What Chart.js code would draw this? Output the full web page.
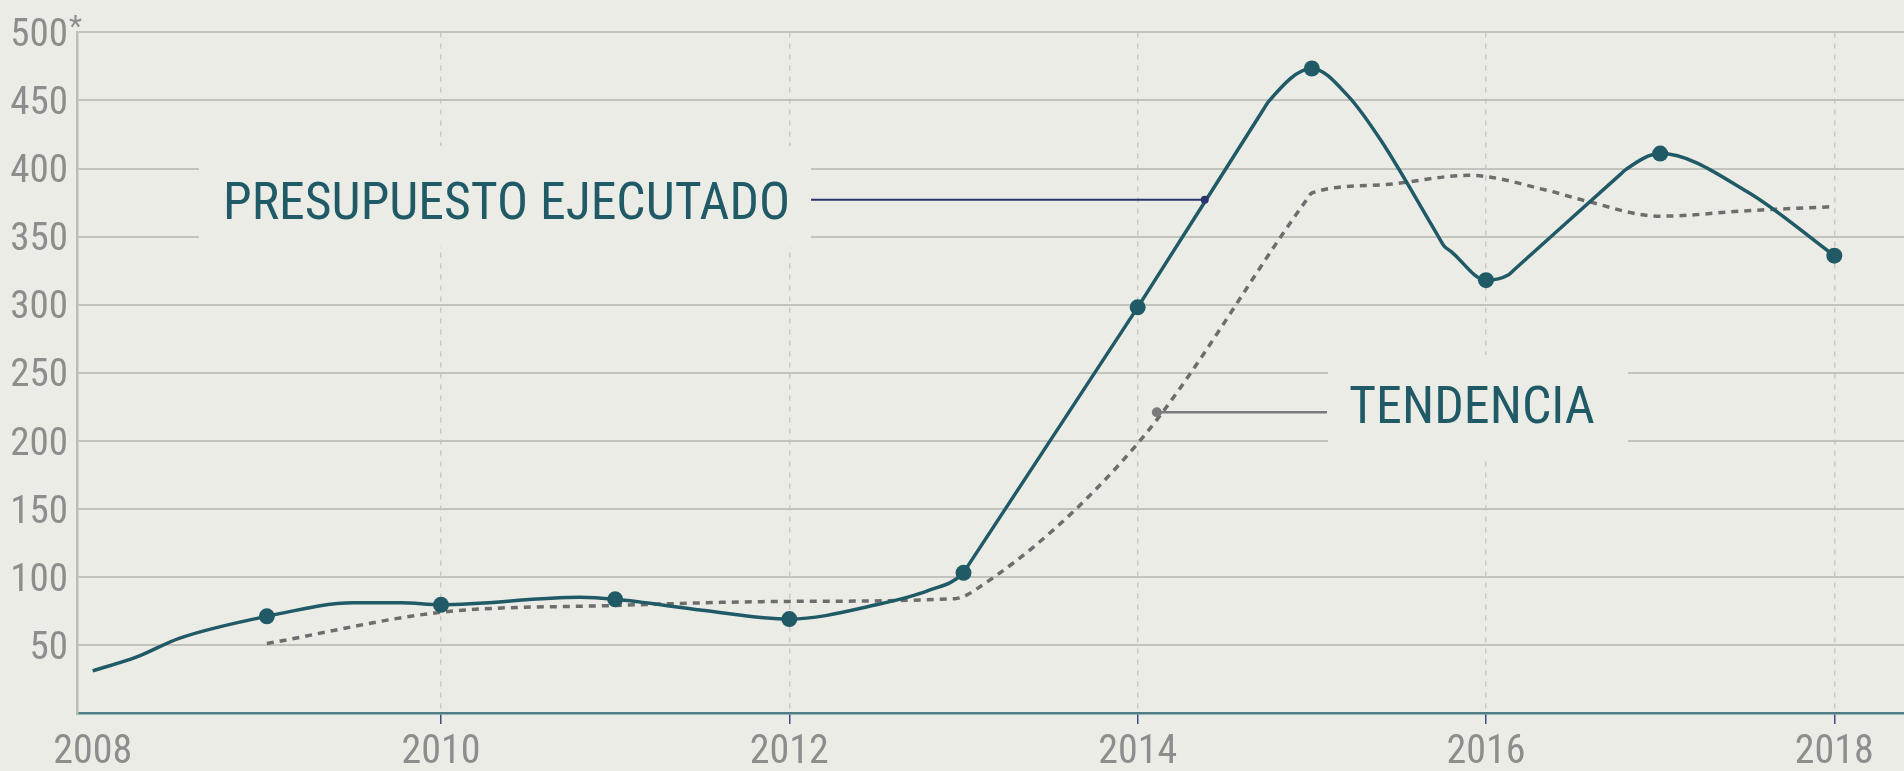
<!DOCTYPE html>
<html>
<head>
<meta charset="utf-8">
<script src="https://cdn.jsdelivr.net/npm/chart.js@4.4.1/dist/chart.umd.min.js"></script>
<style>
  html, body { margin: 0; padding: 0; background: #ecece7; }
  #wrap { width: 1904px; height: 771px; }
</style>
</head>
<body>
<div id="wrap"><canvas id="grafico" width="1904" height="771"></canvas></div>
<script>
// presupuesto ejecutado (línea continua), años con decimales = puntos intermedios sin marca
const gastoAnios = [2008, 2008.25, 2008.5, 2009, 2009.5, 2009.77, 2010, 2010.8, 2011, 2011.5, 2012, 2012.5, 2012.8, 2013, 2013.03, 2014, 2014.72, 2014.75, 2015, 2015.21, 2015.4, 2015.72, 2015.76, 2015.8, 2016, 2016.13, 2016.16, 2016.77, 2016.8, 2017, 2017.5, 2018];
const gastoValores = [31, 41, 55, 71, 81, 81, 79.5, 85, 83.5, 75.5, 69, 79.5, 90, 103, 109, 298, 443, 449, 473.5, 453, 420, 351.5, 343, 339, 318, 322, 325.5, 395.5, 399, 411, 383, 336];

// tendencia (línea punteada)
const tendAnios = [2009, 2010, 2011, 2012, 2012.95, 2013.05, 2014, 2014.97, 2015, 2015.4, 2015.9, 2016.35, 2016.55, 2017, 2017.5, 2018];
const tendValores = [51, 74, 79, 82, 84, 89, 198, 377, 382, 388, 395, 384, 377, 365, 369, 372];

const aniosEje = [2008, 2010, 2012, 2014, 2016, 2018];
const valoresEje = [50, 100, 150, 200, 250, 300, 350, 400, 450, 500];

const FONDO = "#ecece7";
const AZUL = "#205a67";
const FUENTE = '"Liberation Sans Narrow", "Roboto Condensed", Roboto, sans-serif';

// etiquetas con línea guía (anclas en unidades de datos)
const notas = [
  { texto: "PRESUPUESTO EJECUTADO", x: 2014.385, y: 377, color: "#2b336b", radio: 4, grosor: 2,
    finLinea: 811, textoX: 223, base: 219, ancho: 567, tapa: { x: 199, y: 146, w: 612, h: 100 } },
  { texto: "TENDENCIA", x: 2014.11, y: 221, color: "#7a7a7a", radio: 5, grosor: 2.5,
    finLinea: 1327, textoX: 1349, base: 423, ancho: 250, tapa: { x: 1328, y: 355, w: 300, h: 106 } },
];

const anotaciones = {
  id: "anotaciones",
  beforeDatasetsDraw(chart) {
    const ctx = chart.ctx;
    ctx.save();
    ctx.fillStyle = FONDO;
    notas.forEach((n) => ctx.fillRect(n.tapa.x, n.tapa.y, n.tapa.w, n.tapa.h));
    ctx.restore();
  },
  afterDatasetsDraw(chart) {
    const ctx = chart.ctx;
    const sx = chart.scales.x;
    const sy = chart.scales.y;
    ctx.save();
    notas.forEach((n) => {
      const px = sx.getPixelForValue(n.x);
      const py = sy.getPixelForValue(n.y);
      ctx.strokeStyle = n.color;
      ctx.lineWidth = n.grosor;
      ctx.beginPath();
      ctx.moveTo(n.finLinea, py);
      ctx.lineTo(px, py);
      ctx.stroke();
      ctx.fillStyle = n.color;
      ctx.beginPath();
      ctx.arc(px, py, n.radio, 0, Math.PI * 2);
      ctx.fill();

      ctx.fillStyle = "#1f5a66";
      ctx.font = "52px " + FUENTE;
      ctx.textBaseline = "alphabetic";
      ctx.fillText(n.texto, n.textoX, n.base, n.ancho);
    });

    // asterisco junto al 500
    ctx.fillStyle = "#8d8d8d";
    ctx.font = "30px " + FUENTE;
    ctx.textBaseline = "top";
    ctx.fillText("*", 69, sy.getPixelForValue(500) - 19);
    ctx.restore();
  },
};

new Chart(document.getElementById("grafico"), {
  type: "line",
  data: {
    datasets: [
      {
        data: gastoAnios.map((a, i) => ({ x: a, y: gastoValores[i] })),
        borderColor: AZUL,
        borderWidth: 3.5,
        backgroundColor: AZUL,
        cubicInterpolationMode: "monotone",
        pointRadius: (c) => {
          const v = c.raw && c.raw.x;
          return Number.isInteger(v) && v >= 2009 ? 8 : 0;
        },
        pointBorderWidth: 0,
        pointBackgroundColor: AZUL,
      },
      {
        data: tendAnios.map((a, i) => ({ x: a, y: tendValores[i] })),
        borderColor: "#6d6d6d",
        borderWidth: 3.5,
        borderDash: [7, 6],
        cubicInterpolationMode: "monotone",
        pointRadius: 0,
      },
    ],
  },
  options: {
    responsive: false,
    animation: false,
    events: [],
    layout: { autoPadding: false, padding: { top: 31, right: 0, left: 0, bottom: 0 } },
    plugins: { legend: { display: false }, tooltip: { enabled: false } },
    scales: {
      x: {
        type: "linear",
        min: 2007.91,
        max: 2018.4,
        afterBuildTicks: (s) => { s.ticks = aniosEje.map((v) => ({ value: v })); },
        afterFit: (s) => { s.height = 58; },
        border: { display: true, color: "#4e7f88", width: 2.5, dash: [5, 6] },
        grid: {
          color: (c) => (c.tick && c.tick.value === 2008 ? "rgba(0,0,0,0)" : "#c9c9c4"),
          tickColor: (c) => (c.tick && c.tick.value === 2008 ? "rgba(0,0,0,0)" : "#3d4a7e"),
          lineWidth: 1.5,
          tickWidth: 1.5,
          tickLength: 11,
        },
        ticks: {
          color: "#8d8d8d",
          font: { family: FUENTE, size: 40 },
          padding: 5,
          maxRotation: 0,
          autoSkip: false,
          callback: (v) => String(v),
        },
      },
      y: {
        min: 0,
        max: 500,
        afterBuildTicks: (s) => { s.ticks = valoresEje.map((v) => ({ value: v })); },
        afterFit: (s) => { s.width = 77; },
        border: { display: true, color: "#bdbdb8", width: 2.5 },
        grid: { color: "#c3c3be", lineWidth: 2, drawTicks: false },
        ticks: {
          color: "#8d8d8d",
          font: { family: FUENTE, size: 39 },
          padding: 9,
          labelOffset: 4,
          callback: (v) => String(v),
        },
      },
    },
  },
  plugins: [anotaciones],
});
</script>
</body>
</html>
